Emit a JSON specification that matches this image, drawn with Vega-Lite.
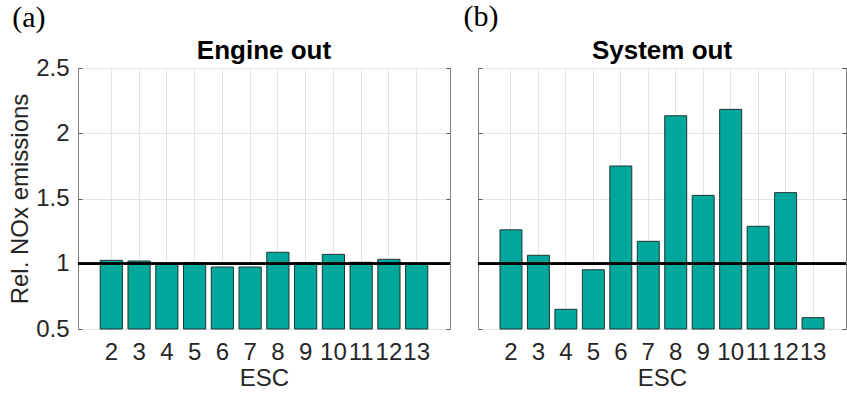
{
  "$schema": "https://vega.github.io/schema/vega-lite/v6.json",
  "autosize": {"type": "pad"},
  "padding": {"left": 8, "top": 2, "right": 0, "bottom": 0},
  "background": "white",
  "config": {
    "font": "Liberation Sans",
    "view": {"stroke": "#808080", "strokeWidth": 1},
    "axis": {
      "labelFont": "Liberation Sans",
      "labelFontSize": 24,
      "labelColor": "#262626",
      "titleFont": "Liberation Sans",
      "titleFontSize": 24,
      "titleFontWeight": "normal",
      "titleColor": "#262626",
      "gridColor": "#e4e4e4",
      "gridWidth": 1,
      "domain": false,
      "tickColor": "#555555",
      "tickSize": -4,
      "labelOverlap": false
    },
    "axisY": {"minExtent": 0},
    "title": {"font": "Liberation Sans", "fontSize": 26, "fontWeight": "bold", "color": "#000000"},
    "concat": {"spacing": 11}
  },
  "datasets": {
    "engine": [
      {"ESC": 2, "value": 1.026},
      {"ESC": 3, "value": 1.021},
      {"ESC": 4, "value": 1.0},
      {"ESC": 5, "value": 1.008},
      {"ESC": 6, "value": 0.975},
      {"ESC": 7, "value": 0.975},
      {"ESC": 8, "value": 1.088},
      {"ESC": 9, "value": 1.008},
      {"ESC": 10, "value": 1.072},
      {"ESC": 11, "value": 1.011},
      {"ESC": 12, "value": 1.034},
      {"ESC": 13, "value": 1.0}
    ],
    "system": [
      {"ESC": 2, "value": 1.26},
      {"ESC": 3, "value": 1.065},
      {"ESC": 4, "value": 0.651},
      {"ESC": 5, "value": 0.954},
      {"ESC": 6, "value": 1.749},
      {"ESC": 7, "value": 1.172},
      {"ESC": 8, "value": 2.134},
      {"ESC": 9, "value": 1.524},
      {"ESC": 10, "value": 2.183},
      {"ESC": 11, "value": 1.287},
      {"ESC": 12, "value": 1.545},
      {"ESC": 13, "value": 0.587}
    ]
  },
  "hconcat": [
    {
      "title": {"text": "(a)", "font": "Liberation Serif", "fontSize": 30, "fontWeight": "normal", "anchor": "start", "frame": "bounds", "dx": 4, "offset": 5},
      "hconcat": [
        {
          "width": 372,
          "height": 261,
          "title": {"text": "Engine out", "frame": "group", "offset": -8},
          "data": {"name": "engine"},
          "resolve": {"axis": {"y": "independent"}},
          "layer": [
            {
              "mark": {"type": "bar", "color": "#00a89b", "stroke": "#1f3634", "strokeWidth": 1},
              "encoding": {
                "x": {
                  "field": "ESC", "type": "ordinal",
                  "scale": {"paddingInner": 0.2, "paddingOuter": 0.8},
                  "axis": {"title": "ESC", "labelAngle": 0, "grid": true, "labelPadding": 15, "titlePadding": 2}
                },
                "y": {
                  "field": "value", "type": "quantitative",
                  "scale": {"domain": [0.5, 2.5], "nice": false, "zero": false},
                  "axis": {"title": "Rel. NOx emissions", "values": [0.5, 1, 1.5, 2, 2.5], "format": "~g", "grid": true, "labelPadding": 13, "titlePadding": 3}
                },
                "y2": {"datum": 0.5}
              }
            },
            {
              "mark": {"type": "rule", "color": "#000000", "opacity": 0.68, "strokeWidth": 2},
              "encoding": {
                "y": {
                  "datum": 1, "type": "quantitative",
                  "axis": {"orient": "right", "values": [0.5, 1, 1.5, 2, 2.5], "labels": false, "grid": false, "title": null}
                }
              }
            }
          ]
        }
      ]
    },
    {
      "title": {"text": "(b)", "font": "Liberation Serif", "fontSize": 30, "fontWeight": "normal", "anchor": "start", "frame": "bounds", "dx": -13, "offset": 5},
      "hconcat": [
        {
          "width": 368,
          "height": 261,
          "title": {"text": "System out", "frame": "group", "offset": 4},
          "data": {"name": "system"},
          "resolve": {"axis": {"y": "independent"}},
          "layer": [
            {
              "mark": {"type": "bar", "color": "#00a89b", "stroke": "#1f3634", "strokeWidth": 1},
              "encoding": {
                "x": {
                  "field": "ESC", "type": "ordinal",
                  "scale": {"paddingInner": 0.2, "paddingOuter": 0.8},
                  "axis": {"title": "ESC", "labelAngle": 0, "grid": true, "labelPadding": 15, "titlePadding": 2}
                },
                "y": {
                  "field": "value", "type": "quantitative",
                  "scale": {"domain": [0.5, 2.5], "nice": false, "zero": false},
                  "axis": {"title": null, "labels": false, "values": [0.5, 1, 1.5, 2, 2.5], "grid": true}
                },
                "y2": {"datum": 0.5}
              }
            },
            {
              "mark": {"type": "rule", "color": "#000000", "opacity": 0.68, "strokeWidth": 2},
              "encoding": {
                "y": {
                  "datum": 1, "type": "quantitative",
                  "axis": {"orient": "right", "values": [0.5, 1, 1.5, 2, 2.5], "labels": false, "grid": false, "title": null}
                }
              }
            }
          ]
        }
      ]
    }
  ]
}
